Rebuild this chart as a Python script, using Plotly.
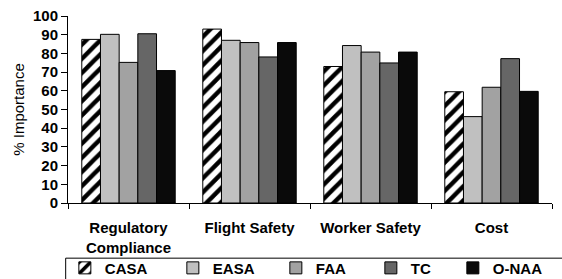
import plotly.graph_objects as go

categories = ["Regulatory<br>Compliance", "Flight Safety", "Worker Safety", "Cost"]
series_names = ["CASA", "EASA", "FAA", "TC", "O-NAA"]
casa = [87.5, 93.0, 73.0, 59.5]
easa = [90.2, 87.0, 84.2, 46.2]
faa = [75.2, 85.8, 80.7, 61.9]
tc = [90.5, 78.1, 74.9, 77.2]
onaa = [70.8, 85.8, 80.7, 59.7]
y_ticks = list(range(0, 101, 10))

values = [casa, easa, faa, tc, onaa]
colors = ["#ffffff", "#c0c0c0", "#a2a2a2", "#666666", "#0a0a0a"]
legend_widths = [63, 58, 50, 37, 60]
FONT = "Liberation Sans, Arial, sans-serif"

fig = go.Figure()
for name, vals, col, lw in zip(series_names, values, colors, legend_widths):
    marker = dict(color=col, line=dict(color="#000000", width=1))
    if name == "CASA":
        marker["pattern"] = dict(shape="/", fgcolor="#000000", bgcolor="#ffffff",
                                 size=10, solidity=0.45, fillmode="replace")
    fig.add_trace(go.Bar(name=name, x=categories, y=vals, marker=marker,
                         legendwidth=lw))

# legend frame (box continues past the bottom/right edge as in the reference)
fig.add_shape(type="rect", xref="paper", yref="paper",
              x0=-0.0048, x1=1.2, y0=-0.295, y1=-0.6,
              line=dict(color="#000000", width=1), fillcolor="rgba(0,0,0,0)",
              layer="below")

fig.update_layout(
    width=562, height=279,
    barmode="group", bargap=0.228, bargroupgap=0,
    plot_bgcolor="white", paper_bgcolor="white",
    margin=dict(l=68, r=10, t=16, b=76, autoexpand=False),
    font=dict(family=FONT, color="#000000"),
    showlegend=True,
    legend=dict(
        orientation="h", x=-0.0065, xanchor="left", y=-0.260, yanchor="top",
        font=dict(size=15, family=FONT, weight="bold"),
        borderwidth=0, bgcolor="rgba(0,0,0,0)",
        traceorder="normal",
    ),
    xaxis=dict(
        showline=True, linecolor="#000000", linewidth=1,
        ticks="outside", tickson="boundaries", ticklen=5, tickcolor="#000000",
        tickfont=dict(size=15, family=FONT, weight="bold"),
        ticklabelstandoff=11,
        showgrid=False,
    ),
    yaxis=dict(
        range=[0, 100], tickvals=y_ticks, ticktext=[str(v) for v in y_ticks],
        showline=True, linecolor="#000000", linewidth=1,
        ticks="outside", ticklen=6, tickcolor="#000000",
        tickfont=dict(size=15, family=FONT, weight="bold"),
        showgrid=False, zeroline=False,
        title=dict(text="% Importance", font=dict(size=15, family=FONT), standoff=4),
    ),
)

fig.write_html("out.html",
               config={"displayModeBar": False},
               post_script="document.body.style.margin='0';document.body.style.overflow='hidden';")
